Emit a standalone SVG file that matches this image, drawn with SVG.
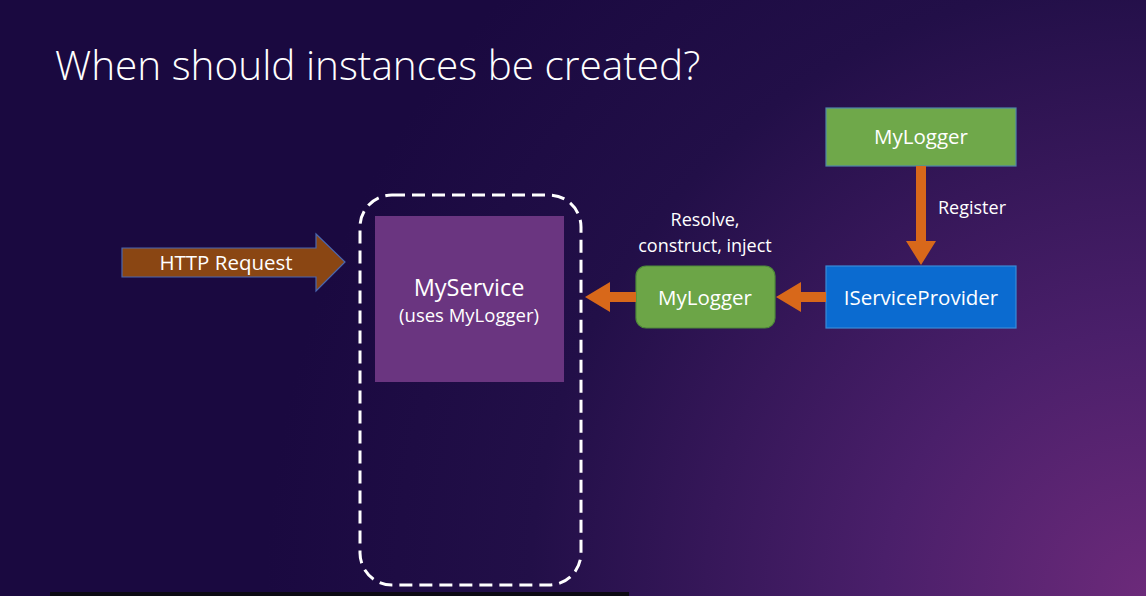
<svg xmlns="http://www.w3.org/2000/svg" width="1146" height="596" viewBox="0 0 1146 596">
  <defs>
    <radialGradient id="bg" cx="1146" cy="596" r="880" gradientUnits="userSpaceOnUse">
      <stop offset="0" stop-color="#6c2a7a"/>
      <stop offset="0.3" stop-color="#4a1f6a"/>
      <stop offset="0.7" stop-color="#220f48"/>
      <stop offset="1" stop-color="#1a0940"/>
    </radialGradient>
    <style>
      .lbl { font-family: "Open Sans", "Noto Sans", "Liberation Sans", sans-serif; fill: #ffffff; text-anchor: middle; }
      .orange { fill: #d8681a; }
    </style>
  </defs>

  <rect x="0" y="0" width="1146" height="596" fill="url(#bg)"/>
  <rect x="50" y="592" width="579" height="4" fill="#0d0a14"/>

  <text x="55" y="80" font-family="Open Sans, Noto Sans, sans-serif" font-weight="300" font-size="40.5" fill="#ffffff">When should instances be created?</text>

  <g id="http-request">
    <polygon points="122,248 316,248 316,234 345,262 316,291 316,277 122,277" fill="#8a4613" stroke="#4a67b0" stroke-width="1.2"/>
    <text class="lbl" x="226" y="270" font-size="20.5">HTTP Request</text>
  </g>

  <g id="scope">
    <rect x="360" y="195" width="221" height="390" rx="32" fill="none" stroke="#ffffff" stroke-width="3" stroke-dasharray="13 7"/>
  </g>

  <g id="myservice">
    <rect x="375" y="216" width="189" height="166" fill="#6a3580"/>
    <text class="lbl" x="469" y="296" font-size="23.5">MyService</text>
    <text class="lbl" x="469" y="322" font-size="18.5">(uses MyLogger)</text>
  </g>

  <g id="mylogger-instance">
    <rect x="636" y="266" width="139" height="62" rx="10" fill="#6ca547" stroke="#4e8a3a" stroke-width="1.2"/>
    <text class="lbl" x="705" y="305" font-size="20.5">MyLogger</text>
  </g>

  <g id="mylogger-type">
    <rect x="826" y="108" width="190" height="58" fill="#6fa84a" stroke="#4f86a8" stroke-width="1.2"/>
    <text class="lbl" x="921" y="144" font-size="20.5">MyLogger</text>
  </g>

  <g id="iserviceprovider">
    <rect x="826" y="266" width="190" height="62" fill="#0b6bd0" stroke="#3a8ad8" stroke-width="1.2"/>
    <text class="lbl" x="921" y="305" font-size="20.5">IServiceProvider</text>
  </g>

  <g id="connectors">
    <!-- MyLogger instance into the scope -->
    <polygon class="orange" points="636,292 610,292 610,282 585,297 610,312 610,302 636,302"/>
    <!-- provider hands out MyLogger -->
    <polygon class="orange" points="826,292 801,292 801,282 776,297 801,312 801,302 826,302"/>
    <!-- registration -->
    <polygon class="orange" points="916,166 926,166 926,241 936,241 921,265 906,241 916,241"/>
    <text class="lbl" x="705" y="226" font-size="18">Resolve,</text>
    <text class="lbl" x="705" y="252" font-size="18">construct, inject</text>
    <text class="lbl" x="972" y="214" font-size="18">Register</text>
  </g>
</svg>
